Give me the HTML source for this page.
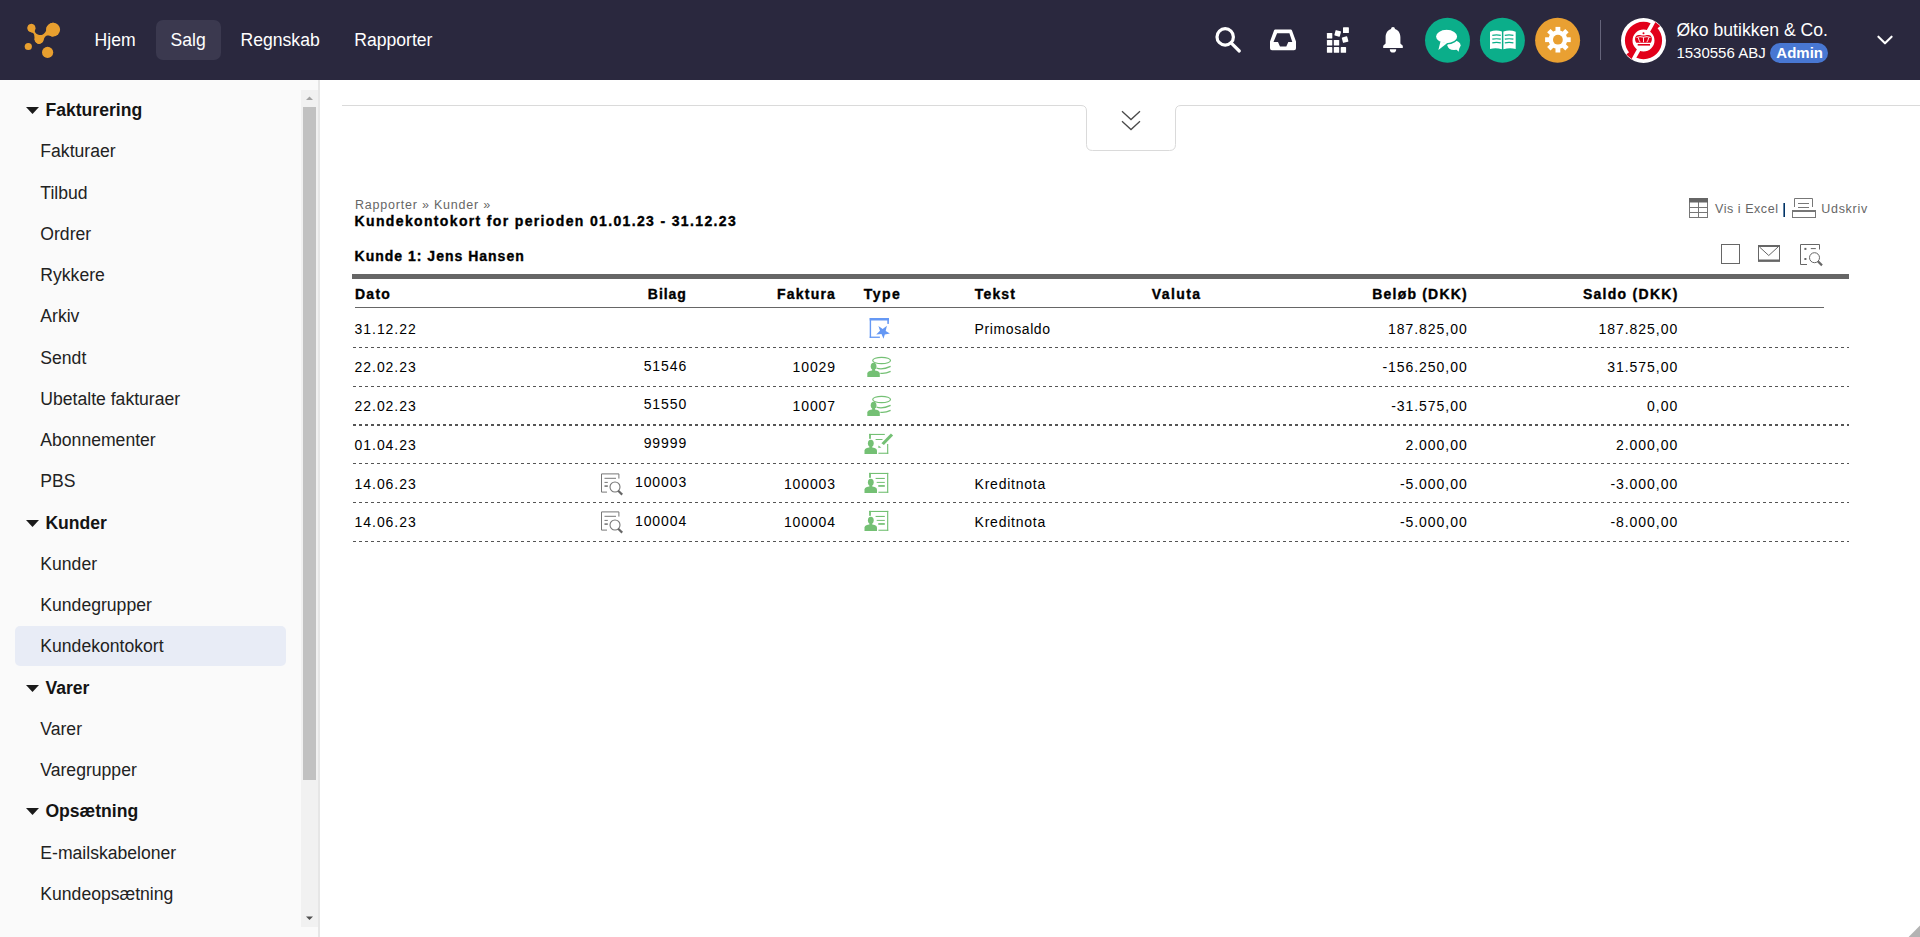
<!DOCTYPE html>
<html lang="da"><head><meta charset="utf-8"><title>Kundekontokort</title>
<style>
*{margin:0;padding:0;box-sizing:border-box}
html,body{width:1920px;height:937px;overflow:hidden;background:#fff;font-family:"Liberation Sans",sans-serif}
.abs{position:absolute;display:block}
.t{position:absolute;white-space:nowrap}
#hdr{position:absolute;left:0;top:0;width:1920px;height:80px;background:#2a283e}
#side{position:absolute;left:0;top:80px;width:318px;height:857px;background:#fafafa}
.dash{position:absolute;left:353px;width:1496px;height:1px;background:repeating-linear-gradient(90deg,#555 0,#555 3px,transparent 3px,transparent 6px)}
</style></head><body>
<header>
<div id="hdr"></div>
<svg class="abs" style="left:0;top:0" width="80" height="80" viewBox="0 0 80 80">
<g fill="#e89f2f">
<path d="M31.44,23.81 C30.15,23.85 27.71,26.70 27.55,28.08 C27.39,29.46 29.46,31.15 30.48,32.08 C31.51,33.02 33.02,32.80 33.69,33.69 C34.35,34.58 34.31,36.36 34.49,37.42 C34.67,38.49 34.26,39.07 34.75,40.09 C35.24,41.12 36.71,42.94 37.42,43.56 C38.14,44.19 38.22,44.05 39.03,43.83 C39.83,43.61 41.38,43.12 42.23,42.23 C43.07,41.34 43.47,39.52 44.10,38.49 C44.72,37.47 45.12,36.58 45.97,36.09 C46.81,35.60 47.92,35.51 49.17,35.56 C50.42,35.60 51.66,37.33 53.44,36.36 C55.22,35.38 59.89,31.95 59.85,29.68 C59.80,27.41 55.31,23.32 53.17,22.74 C51.04,22.16 48.24,24.83 47.03,26.21 C45.830,27.59 46.50,29.77 45.97,31.02 C45.43,32.26 44.72,33.02 43.83,33.69 C42.94,34.35 41.87,35.02 40.63,35.02 C39.38,35.02 37.33,34.35 36.36,33.69 C35.38,33.02 34.93,32.00 34.75,31.02 C34.58,30.04 35.84,29.01 35.29,27.81 C34.74,26.61 32.73,23.76 31.44,23.81Z"/>
<circle cx="31.4" cy="28.1" r="4"/>
<circle cx="53.2" cy="29.6" r="6.85"/>
<circle cx="39.1" cy="39.4" r="4.5"/>
<circle cx="28.3" cy="46.5" r="3.6"/>
<circle cx="47.6" cy="52.4" r="5.6"/>
</g></svg>
<div class="abs" style="left:156px;top:20px;width:65px;height:40px;border-radius:7px;background:#3b394f"></div>
<div class="t" style="top:32.00px;font-size:17.6px;line-height:17.6px;color:#fff;left:94.60px;">Hjem</div>
<div class="t" style="top:32.00px;font-size:17.6px;line-height:17.6px;color:#fff;left:170.60px;">Salg</div>
<div class="t" style="top:32.00px;font-size:17.6px;line-height:17.6px;color:#fff;left:240.50px;">Regnskab</div>
<div class="t" style="top:32.00px;font-size:17.6px;line-height:17.6px;color:#fff;left:354.20px;">Rapporter</div>
<svg class="abs" style="left:1200px;top:0" width="720" height="80" viewBox="1200 0 720 80">
<g fill="none" stroke="#fff" stroke-linecap="round">
<circle cx="1225.2" cy="36.9" r="8.2" stroke-width="3.2"/>
<line x1="1231.6" y1="43.4" x2="1239.3" y2="51" stroke-width="3.2"/>
</g>
<path fill="#fff" fill-rule="evenodd" d="M1275.2,29.6 H1290.8 Q1291.6,29.6 1292,30.4 L1296,41.5 V48.2 Q1296,50.2 1294,50.2 H1272 Q1270,50.2 1270,48.2 V41.5 L1274,30.4 Q1274.4,29.6 1275.2,29.6 Z M1277.1,33.3 H1289.4 L1292.3,41.9 H1288.3 L1286.3,46.6 H1280 L1278,41.9 H1273.5 Z"/>
<g fill="#fff">
<rect x="1326.9" y="47.1" width="5.4" height="5.7" rx="0.6"/>
<rect x="1333.8" y="47.1" width="5.4" height="5.7" rx="0.6"/>
<rect x="1340.7" y="47.1" width="5.4" height="5.7" rx="0.6"/>
<rect x="1326.9" y="40" width="5.4" height="5.6" rx="0.6"/>
<rect x="1333.8" y="40" width="5.4" height="5.6" rx="0.6"/>
<rect x="1326.9" y="33" width="5.4" height="5.6" rx="0.6"/>
<rect x="1343" y="27.3" width="5.9" height="5.7" rx="0.6"/>
<rect x="-2.8" y="-2.8" width="5.6" height="5.6" rx="0.6" transform="translate(1337.7,33.4) rotate(15)"/>
<rect x="-2.8" y="-2.8" width="5.6" height="5.6" rx="0.6" transform="translate(1345.1,39.6) rotate(-15)"/>
<path d="M1393,27.1 C1394.2,27.1 1394.9,27.9 1394.9,28.9 C1398.5,29.9 1400.4,33.2 1400.4,37.2 V43.4 L1402.8,45.8 V47.9 H1383.2 V45.8 L1385.6,43.4 V37.2 C1385.6,33.2 1387.5,29.9 1391.1,28.9 C1391.1,27.9 1391.8,27.1 1393,27.1 Z"/>
<path d="M1389.8,49.2 H1396.2 A3.2,3.4 0 0 1 1389.8,49.2 Z"/>
</g>
<circle cx="1447.5" cy="40.3" r="22.5" fill="#0bae8a"/>
<circle cx="1502.4" cy="40.3" r="22.5" fill="#0bae8a"/>
<circle cx="1557.6" cy="40.3" r="22.5" fill="#e9a032"/>
<g fill="#fff">
<ellipse cx="1454" cy="45.3" rx="6.6" ry="4.8"/>
<path d="M1455,48 L1458.6,51.8 L1459.5,47.5 Z"/>
<ellipse cx="1446.6" cy="36.5" rx="11.2" ry="7.3" stroke="#0bae8a" stroke-width="1.3"/>
<path d="M1440.5,41.5 L1438.4,50 L1447,43.3 Z"/>
</g>
<g fill="#fff">
<path d="M1490,31.8 Q1496,29.2 1501.9,31.6 V49.2 Q1496,47.3 1490,48.9 Z"/>
<path d="M1515.7,31.8 Q1509.7,29.2 1503.4,31.6 V49.2 Q1509.7,47.3 1515.7,48.9 Z"/>
</g>
<g stroke="#0bae8a" stroke-width="1.2" fill="none">
<path d="M1492.3,35.3 Q1496.5,34.4 1500.8,35.3 M1492.3,39.2 Q1496.5,38.3 1500.8,39.2 M1492.3,42.9 Q1496.5,42 1500.8,42.9"/>
<path d="M1504.8,35.3 Q1509,34.4 1513.4,35.3 M1504.8,39.2 Q1509,38.3 1513.4,39.2 M1504.8,42.9 Q1509,42 1513.4,42.9"/>
</g>
<g fill="#fff" transform="translate(1557.9,39.7)">
<circle r="9.4"/>
<rect x="-2.4" y="-12.8" width="4.8" height="25.6"/>
<rect x="-2.4" y="-12.8" width="4.8" height="25.6" transform="rotate(45)"/>
<rect x="-2.4" y="-12.8" width="4.8" height="25.6" transform="rotate(90)"/>
<rect x="-2.4" y="-12.8" width="4.8" height="25.6" transform="rotate(135)"/>
<circle r="4.9" fill="#e9a032"/>
</g>
<line x1="1600.5" y1="20" x2="1600.5" y2="60" stroke="#65647a" stroke-width="1"/>
<circle cx="1643.5" cy="40.5" r="22.5" fill="#fff"/>
<path fill="#e2001a" fill-rule="evenodd" d="M1624.9,40.5 A18.6,18.6 0 1 0 1662.1,40.5 A18.6,18.6 0 1 0 1624.9,40.5 Z M1632.5,40.5 A11,11 0 1 0 1654.5,40.5 A11,11 0 1 0 1632.5,40.5 Z"/>
<clipPath id="lc"><circle cx="1643.5" cy="40.5" r="22"/></clipPath>
<path fill="#e2001a" clip-path="url(#lc)" d="M1651.48,25.49 A17,17 0 0 1 1656.33,29.35 L1660.86,25.41 A23,23 0 0 0 1654.30,20.19 Z M1635.52,55.51 A17,17 0 0 1 1630.29,51.20 L1625.63,54.97 A23,23 0 0 0 1632.70,60.81 Z"/>
<g stroke="#fff" stroke-width="3.6" clip-path="url(#lc)">
<line x1="1647" y1="33.5" x2="1656.5" y2="16.5"/>
<line x1="1640" y1="47.5" x2="1630.5" y2="64.5"/>
</g>
<g fill="#e2001a">
<path d="M1636.2,42.8 C1634.2,39.5 1634.8,35.2 1638.6,35 C1640.5,34.9 1641.7,35.6 1643.5,35.5 C1645.3,35.6 1646.5,34.9 1648.4,35 C1652.2,35.2 1652.8,39.5 1650.8,42.8 Z"/>
<rect x="1637.7" y="44" width="12.3" height="1.6"/>
<circle cx="1643.5" cy="33.2" r="1"/>
</g>
<g stroke="#fff" stroke-width="0.9" fill="none">
<path d="M1638.3,37.6 Q1638.8,40.5 1640.2,42.2 M1643.5,37.2 V42.2 M1648.7,37.6 Q1648.2,40.5 1646.8,42.2 M1636.5,37.5 Q1640,36 1643.5,37.2 Q1647,36 1650.5,37.5"/>
</g>
<rect x="1770" y="43" width="58" height="20" rx="10" fill="#4877d2"/>
<polyline points="1878.4,36.7 1885,43.3 1891.6,36.7" fill="none" stroke="#fff" stroke-width="2.1" stroke-linecap="round" stroke-linejoin="round"/>
</svg>
<div class="t" style="top:22.00px;font-size:17.6px;line-height:17.6px;color:#fff;left:1676.40px;">Øko butikken &amp; Co.</div>
<div class="t" style="top:45.00px;font-size:15px;line-height:15px;color:#fff;left:1676.40px;">1530556 ABJ</div>
<div class="t" style="top:45.00px;font-size:15px;line-height:15px;color:#fff;font-weight:bold;left:1776.30px;">Admin</div>
</header>
<aside>
<div id="side"></div>
<svg class="abs" style="left:26px;top:106.70px" width="13" height="7" viewBox="0 0 13 7"><path d="M0,0 H13 L6.5,7 Z" fill="#1a1a1a"/></svg>
<div class="t" style="top:102.00px;font-size:17.6px;line-height:17.6px;color:#141414;font-weight:bold;left:45.40px;">Fakturering</div>
<div class="t" style="top:143.00px;font-size:17.6px;line-height:17.6px;color:#222;left:40.30px;">Fakturaer</div>
<div class="t" style="top:185.00px;font-size:17.6px;line-height:17.6px;color:#222;left:40.30px;">Tilbud</div>
<div class="t" style="top:226.00px;font-size:17.6px;line-height:17.6px;color:#222;left:40.30px;">Ordrer</div>
<div class="t" style="top:267.00px;font-size:17.6px;line-height:17.6px;color:#222;left:40.30px;">Rykkere</div>
<div class="t" style="top:308.00px;font-size:17.6px;line-height:17.6px;color:#222;left:40.30px;">Arkiv</div>
<div class="t" style="top:350.00px;font-size:17.6px;line-height:17.6px;color:#222;left:40.30px;">Sendt</div>
<div class="t" style="top:391.00px;font-size:17.6px;line-height:17.6px;color:#222;left:40.30px;">Ubetalte fakturaer</div>
<div class="t" style="top:432.00px;font-size:17.6px;line-height:17.6px;color:#222;left:40.30px;">Abonnementer</div>
<div class="t" style="top:473.00px;font-size:17.6px;line-height:17.6px;color:#222;left:40.30px;">PBS</div>
<svg class="abs" style="left:26px;top:519.70px" width="13" height="7" viewBox="0 0 13 7"><path d="M0,0 H13 L6.5,7 Z" fill="#1a1a1a"/></svg>
<div class="t" style="top:515.00px;font-size:17.6px;line-height:17.6px;color:#141414;font-weight:bold;left:45.40px;">Kunder</div>
<div class="t" style="top:556.00px;font-size:17.6px;line-height:17.6px;color:#222;left:40.30px;">Kunder</div>
<div class="t" style="top:597.00px;font-size:17.6px;line-height:17.6px;color:#222;left:40.30px;">Kundegrupper</div>
<div class="abs" style="left:15px;top:626px;width:271px;height:40px;border-radius:5px;background:#e8ecf6"></div>
<div class="t" style="top:638.00px;font-size:17.6px;line-height:17.6px;color:#222;left:40.30px;">Kundekontokort</div>
<svg class="abs" style="left:26px;top:684.70px" width="13" height="7" viewBox="0 0 13 7"><path d="M0,0 H13 L6.5,7 Z" fill="#1a1a1a"/></svg>
<div class="t" style="top:680.00px;font-size:17.6px;line-height:17.6px;color:#141414;font-weight:bold;left:45.40px;">Varer</div>
<div class="t" style="top:721.00px;font-size:17.6px;line-height:17.6px;color:#222;left:40.30px;">Varer</div>
<div class="t" style="top:762.00px;font-size:17.6px;line-height:17.6px;color:#222;left:40.30px;">Varegrupper</div>
<svg class="abs" style="left:26px;top:807.70px" width="13" height="7" viewBox="0 0 13 7"><path d="M0,0 H13 L6.5,7 Z" fill="#1a1a1a"/></svg>
<div class="t" style="top:803.00px;font-size:17.6px;line-height:17.6px;color:#141414;font-weight:bold;left:45.40px;">Opsætning</div>
<div class="t" style="top:845.00px;font-size:17.6px;line-height:17.6px;color:#222;left:40.30px;">E-mailskabeloner</div>
<div class="t" style="top:886.00px;font-size:17.6px;line-height:17.6px;color:#222;left:40.30px;">Kundeopsætning</div>
<div class="abs" style="left:318px;top:80px;width:2px;height:857px;background:#e6e6e6"></div>
<div class="abs" style="left:301px;top:90px;width:17px;height:837px;background:#f1f1f1"></div>
<div class="abs" style="left:303px;top:107px;width:13px;height:673px;background:#c1c1c1"></div>
<svg class="abs" style="left:301px;top:90px" width="17" height="17" viewBox="0 0 17 17"><path d="M5,10 L8.5,6.5 L12,10 Z" fill="#a3a3a3"/></svg>
<svg class="abs" style="left:301px;top:910px" width="17" height="17" viewBox="0 0 17 17"><path d="M5,6.5 L8.5,10 L12,6.5 Z" fill="#505050"/></svg>
</aside>
<main>
<svg class="abs" style="left:320px;top:80px" width="1600" height="100" viewBox="320 80 1600 100">
<path d="M342,105.5 H1081 Q1086.5,105.5 1086.5,111 V144.5 Q1086.5,150.5 1092.5,150.5 H1169.5 Q1175.5,150.5 1175.5,144.5 V111 Q1175.5,105.5 1181,105.5 H1920" fill="none" stroke="#dadada" stroke-width="1"/>
<polyline points="1122,111.3 1131,119.6 1140,111.3" fill="none" stroke="#4a4a4a" stroke-width="1.3"/>
<polyline points="1122,121.3 1131,129.6 1140,121.3" fill="none" stroke="#4a4a4a" stroke-width="1.3"/>
</svg>
<div class="t" style="top:199.00px;font-size:12.5px;line-height:12.5px;color:#666;letter-spacing:0.79px;left:355.00px;">Rapporter » Kunder »</div>
<div class="t" style="top:214.00px;font-size:14px;line-height:14px;color:#000;font-weight:bold;-webkit-text-stroke:0.35px #000;letter-spacing:1.35px;left:354.60px;">Kundekontokort for perioden 01.01.23 - 31.12.23</div>
<div class="t" style="top:249.00px;font-size:14px;line-height:14px;color:#000;font-weight:bold;-webkit-text-stroke:0.35px #000;letter-spacing:1.0px;left:354.60px;">Kunde 1: Jens Hansen</div>
<svg class="abs" style="left:1680px;top:190px" width="200" height="90" viewBox="1680 190 200 90">
<g fill="none" stroke="#777" stroke-width="1">
<rect x="1689.5" y="198.5" width="18" height="19"/>
<line x1="1698.5" y1="202" x2="1698.5" y2="218"/>
<line x1="1689.5" y1="207.5" x2="1707.5" y2="207.5"/>
<line x1="1689.5" y1="212.5" x2="1707.5" y2="212.5"/>
</g>
<rect x="1689" y="198" width="19" height="4.5" fill="#666"/>
<g fill="none" stroke="#777" stroke-width="1">
<path d="M1794.5,207 V198.5 H1812.5 V207"/>
<line x1="1798" y1="203.5" x2="1809" y2="203.5"/>
<line x1="1798" y1="207.5" x2="1809" y2="207.5"/>
<rect x="1792.5" y="210.5" width="23" height="7"/>
</g>
<rect x="1792" y="210" width="24" height="2" fill="#777"/>
<rect x="1783.4" y="203" width="1.6" height="14" fill="#036"/>
<g fill="none" stroke="#666" stroke-width="1">
<rect x="1721.5" y="244.5" width="18" height="19"/>
<rect x="1758.5" y="245.5" width="21" height="15.5"/>
<polyline points="1759.5,247 1768.75,255.5 1778,247"/>
<path d="M1807,264.5 H1800.5 V244.5 H1819.5 V249.5"/>
<circle cx="1814.5" cy="257.7" r="5"/>
</g>
<rect x="1758" y="245" width="22" height="2" fill="#666"/>
<rect x="1758" y="259.5" width="22" height="2.3" fill="#666"/>
<rect x="1804.4" y="247.9" width="2" height="2" fill="#666"/>
<rect x="1804.4" y="258" width="2" height="2" fill="#666"/>
<line x1="1810.8" y1="248.6" x2="1815.8" y2="248.6" stroke="#666" stroke-width="1"/>
<line x1="1818" y1="261.4" x2="1822" y2="265.4" stroke="#666" stroke-width="2.2"/>
</svg>
<div class="t" style="top:203.00px;font-size:12.5px;line-height:12.5px;color:#666;letter-spacing:0.55px;left:1715.00px;">Vis i Excel</div>
<div class="t" style="top:203.00px;font-size:12.5px;line-height:12.5px;color:#666;letter-spacing:0.73px;left:1821.20px;">Udskriv</div>
<div class="abs" style="left:352px;top:274px;width:1497px;height:5px;background:#666"></div>
<div class="abs" style="left:355px;top:307px;width:1469px;height:1px;background:#666"></div>
<div class="dash" style="top:347px"></div>
<div class="dash" style="top:386px"></div>
<div class="dash" style="top:424px"></div>
<div class="dash" style="top:425px"></div>
<div class="dash" style="top:463px"></div>
<div class="dash" style="top:502px"></div>
<div class="dash" style="top:541px"></div>
<div class="t" style="top:287.00px;font-size:14px;line-height:14px;color:#000;font-weight:bold;-webkit-text-stroke:0.35px #000;letter-spacing:1.3px;left:354.90px;">Dato</div>
<div class="t" style="top:287.00px;font-size:14px;line-height:14px;color:#000;font-weight:bold;-webkit-text-stroke:0.35px #000;letter-spacing:0.95px;right:1234.10px;margin-right:-0.95px;">Bilag</div>
<div class="t" style="top:287.00px;font-size:14px;line-height:14px;color:#000;font-weight:bold;-webkit-text-stroke:0.35px #000;letter-spacing:1.23px;right:1085.10px;margin-right:-1.23px;">Faktura</div>
<div class="t" style="top:287.00px;font-size:14px;line-height:14px;color:#000;font-weight:bold;-webkit-text-stroke:0.35px #000;letter-spacing:1.46px;left:863.70px;">Type</div>
<div class="t" style="top:287.00px;font-size:14px;line-height:14px;color:#000;font-weight:bold;-webkit-text-stroke:0.35px #000;letter-spacing:1.2px;left:974.70px;">Tekst</div>
<div class="t" style="top:287.00px;font-size:14px;line-height:14px;color:#000;font-weight:bold;-webkit-text-stroke:0.35px #000;letter-spacing:1.4px;left:1151.80px;">Valuta</div>
<div class="t" style="top:287.00px;font-size:14px;line-height:14px;color:#000;font-weight:bold;-webkit-text-stroke:0.35px #000;letter-spacing:1.2px;right:453.30px;margin-right:-1.2px;">Beløb (DKK)</div>
<div class="t" style="top:287.00px;font-size:14px;line-height:14px;color:#000;font-weight:bold;-webkit-text-stroke:0.35px #000;letter-spacing:1.27px;right:242.70px;margin-right:-1.27px;">Saldo (DKK)</div>
<div class="t" style="top:322.00px;font-size:14px;line-height:14px;color:#000;letter-spacing:0.94px;left:354.60px;">31.12.22</div>
<div class="t" style="top:322.00px;font-size:14px;line-height:14px;color:#000;letter-spacing:0.6px;left:974.60px;">Primosaldo</div>
<div class="t" style="top:322.00px;font-size:14px;line-height:14px;color:#000;letter-spacing:0.95px;right:453.30px;margin-right:-0.95px;">187.825,00</div>
<div class="t" style="top:322.00px;font-size:14px;line-height:14px;color:#000;letter-spacing:0.95px;right:242.80px;margin-right:-0.95px;">187.825,00</div>
<svg class="abs" style="left:860px;top:312px" width="40" height="32" viewBox="860 312 40 32">
<g fill="#6598f4">
<rect x="869.7" y="318" width="19.2" height="2.5"/>
<rect x="869.7" y="318" width="1.4" height="19.9"/>
<rect x="887.3" y="318" width="1.6" height="5.9"/>
<rect x="869.7" y="336.6" width="10.2" height="1.3"/>
<polygon points="878.4,326 882.7,328.9 886.9,325.7 885.7,331 889.9,333.4 884.8,334.6 883.5,338.8 881.5,334 876.2,334.6 880,330.7"/>
</g>
</svg>
<div class="t" style="top:360.00px;font-size:14px;line-height:14px;color:#000;letter-spacing:0.94px;left:354.60px;">22.02.23</div>
<div class="t" style="top:359.00px;font-size:14px;line-height:14px;color:#000;letter-spacing:0.9px;right:1233.80px;margin-right:-0.9px;">51546</div>
<div class="t" style="top:360.00px;font-size:14px;line-height:14px;color:#000;letter-spacing:0.9px;right:1084.90px;margin-right:-0.9px;">10029</div>
<div class="t" style="top:360.00px;font-size:14px;line-height:14px;color:#000;letter-spacing:0.95px;right:453.30px;margin-right:-0.95px;">-156.250,00</div>
<div class="t" style="top:360.00px;font-size:14px;line-height:14px;color:#000;letter-spacing:0.95px;right:242.80px;margin-right:-0.95px;">31.575,00</div>
<svg class="abs" style="left:860px;top:350px" width="40" height="34" viewBox="860 350 40 34">
<path fill="#74c074" d="M867.30,376.90 V373.50 Q867.30,371.50 869.70,371.00 L872.00,370.60 H875.10 L877.40,371.00 Q879.80,371.50 879.80,373.50 V376.90 Z"/><rect fill="#74c074" x="872.20" y="368.10" width="2.8" height="3"/><ellipse fill="#74c074" cx="873.60" cy="366.30" rx="2.9" ry="3.5"/>
<g fill="none" stroke="#74c074" stroke-width="1.2">
<ellipse cx="881.6" cy="360.5" rx="8.9" ry="3.2"/>
<path d="M876.4,368 Q882,370.3 890.6,366.4"/>
<path d="M880.3,373.3 Q885.5,373.9 890.6,371.4"/>
</g>
</svg>
<div class="t" style="top:399.00px;font-size:14px;line-height:14px;color:#000;letter-spacing:0.94px;left:354.60px;">22.02.23</div>
<div class="t" style="top:397.00px;font-size:14px;line-height:14px;color:#000;letter-spacing:0.9px;right:1233.80px;margin-right:-0.9px;">51550</div>
<div class="t" style="top:399.00px;font-size:14px;line-height:14px;color:#000;letter-spacing:0.9px;right:1084.90px;margin-right:-0.9px;">10007</div>
<div class="t" style="top:399.00px;font-size:14px;line-height:14px;color:#000;letter-spacing:0.95px;right:453.30px;margin-right:-0.95px;">-31.575,00</div>
<div class="t" style="top:399.00px;font-size:14px;line-height:14px;color:#000;letter-spacing:0.95px;right:242.80px;margin-right:-0.95px;">0,00</div>
<svg class="abs" style="left:860px;top:389px" width="40" height="34" viewBox="860 350 40 34">
<path fill="#74c074" d="M867.30,376.90 V373.50 Q867.30,371.50 869.70,371.00 L872.00,370.60 H875.10 L877.40,371.00 Q879.80,371.50 879.80,373.50 V376.90 Z"/><rect fill="#74c074" x="872.20" y="368.10" width="2.8" height="3"/><ellipse fill="#74c074" cx="873.60" cy="366.30" rx="2.9" ry="3.5"/>
<g fill="none" stroke="#74c074" stroke-width="1.2">
<ellipse cx="881.6" cy="360.5" rx="8.9" ry="3.2"/>
<path d="M876.4,368 Q882,370.3 890.6,366.4"/>
<path d="M880.3,373.3 Q885.5,373.9 890.6,371.4"/>
</g>
</svg>
<div class="t" style="top:438.00px;font-size:14px;line-height:14px;color:#000;letter-spacing:0.94px;left:354.60px;">01.04.23</div>
<div class="t" style="top:436.00px;font-size:14px;line-height:14px;color:#000;letter-spacing:0.9px;right:1233.80px;margin-right:-0.9px;">99999</div>
<div class="t" style="top:438.00px;font-size:14px;line-height:14px;color:#000;letter-spacing:0.95px;right:453.30px;margin-right:-0.95px;">2.000,00</div>
<div class="t" style="top:438.00px;font-size:14px;line-height:14px;color:#000;letter-spacing:0.95px;right:242.80px;margin-right:-0.95px;">2.000,00</div>
<svg class="abs" style="left:858px;top:428px" width="40" height="30" viewBox="858 428 40 30">
<g fill="#74c074">
<rect x="869.1" y="433.9" width="15.7" height="1.1"/>
<rect x="869.1" y="433.9" width="1.8" height="4.9"/>
<rect x="887.1" y="444" width="1.15" height="9.9"/>
<rect x="878.4" y="452.7" width="9.85" height="1.1"/>
<rect x="875.6" y="439" width="6.9" height="1"/>
<polygon points="881.4,443.2 890.9,433.5 893.1,435.6 883.9,444.9"/>
<polygon points="878.4,445.4 878.4,447.9 881.4,447.4"/>
</g>
<path fill="#74c074" d="M864.50,453.90 V450.50 Q864.50,448.50 866.90,448.00 L869.20,447.60 H872.30 L874.60,448.00 Q877.00,448.50 877.00,450.50 V453.90 Z"/><rect fill="#74c074" x="869.40" y="445.10" width="2.8" height="3"/><ellipse fill="#74c074" cx="870.80" cy="443.30" rx="2.9" ry="3.5"/>
</svg>
<div class="t" style="top:477.00px;font-size:14px;line-height:14px;color:#000;letter-spacing:0.94px;left:354.60px;">14.06.23</div>
<div class="t" style="top:475.00px;font-size:14px;line-height:14px;color:#000;letter-spacing:0.9px;right:1233.80px;margin-right:-0.9px;">100003</div>
<div class="t" style="top:477.00px;font-size:14px;line-height:14px;color:#000;letter-spacing:0.9px;right:1084.90px;margin-right:-0.9px;">100003</div>
<div class="t" style="top:477.00px;font-size:14px;line-height:14px;color:#000;letter-spacing:0.75px;left:974.60px;">Kreditnota</div>
<div class="t" style="top:477.00px;font-size:14px;line-height:14px;color:#000;letter-spacing:0.95px;right:453.30px;margin-right:-0.95px;">-5.000,00</div>
<div class="t" style="top:477.00px;font-size:14px;line-height:14px;color:#000;letter-spacing:0.95px;right:242.80px;margin-right:-0.95px;">-3.000,00</div>
<svg class="abs" style="left:858px;top:466px" width="40" height="30" viewBox="858 466 40 30">
<g fill="#74c074">
<rect x="869.1" y="472.9" width="19.15" height="1.1"/>
<rect x="869.1" y="472.9" width="1.8" height="4.9"/>
<rect x="887.1" y="472.9" width="1.15" height="19.9"/>
<rect x="878.4" y="491.7" width="9.85" height="1.1"/>
<rect x="875.6" y="477.9" width="9.2" height="1.1"/>
<rect x="876.7" y="481.9" width="8.1" height="1"/>
<rect x="878.25" y="485.1" width="6.55" height="1.7"/>
</g>
<path fill="#74c074" d="M864.50,492.90 V489.50 Q864.50,487.50 866.90,487.00 L869.20,486.60 H872.30 L874.60,487.00 Q877.00,487.50 877.00,489.50 V492.90 Z"/><rect fill="#74c074" x="869.40" y="484.10" width="2.8" height="3"/><ellipse fill="#74c074" cx="870.80" cy="482.30" rx="2.9" ry="3.5"/>
</svg>
<svg class="abs" style="left:595px;top:466.00px" width="32" height="32" viewBox="595 466 32 32">
<path d="M607,492.1 H601.5 V473.9 H618.9 V478.6" fill="none" stroke="#777" stroke-width="1"/>
<line x1="604.5" y1="478.3" x2="616" y2="478.3" stroke="#777" stroke-width="1"/>
<line x1="604.5" y1="482.4" x2="607.8" y2="482.4" stroke="#777" stroke-width="1"/>
<line x1="604.5" y1="486.1" x2="607.8" y2="486.1" stroke="#777" stroke-width="1.6"/>
<circle cx="615" cy="487" r="5" fill="none" stroke="#777" stroke-width="1.1"/>
<line x1="618.2" y1="490.8" x2="622.2" y2="494.6" stroke="#666" stroke-width="2.2"/>
</svg>
<div class="t" style="top:515.00px;font-size:14px;line-height:14px;color:#000;letter-spacing:0.94px;left:354.60px;">14.06.23</div>
<div class="t" style="top:514.00px;font-size:14px;line-height:14px;color:#000;letter-spacing:0.9px;right:1233.80px;margin-right:-0.9px;">100004</div>
<div class="t" style="top:515.00px;font-size:14px;line-height:14px;color:#000;letter-spacing:0.9px;right:1084.90px;margin-right:-0.9px;">100004</div>
<div class="t" style="top:515.00px;font-size:14px;line-height:14px;color:#000;letter-spacing:0.75px;left:974.60px;">Kreditnota</div>
<div class="t" style="top:515.00px;font-size:14px;line-height:14px;color:#000;letter-spacing:0.95px;right:453.30px;margin-right:-0.95px;">-5.000,00</div>
<div class="t" style="top:515.00px;font-size:14px;line-height:14px;color:#000;letter-spacing:0.95px;right:242.80px;margin-right:-0.95px;">-8.000,00</div>
<svg class="abs" style="left:858px;top:504px" width="40" height="30" viewBox="858 466 40 30">
<g fill="#74c074">
<rect x="869.1" y="472.9" width="19.15" height="1.1"/>
<rect x="869.1" y="472.9" width="1.8" height="4.9"/>
<rect x="887.1" y="472.9" width="1.15" height="19.9"/>
<rect x="878.4" y="491.7" width="9.85" height="1.1"/>
<rect x="875.6" y="477.9" width="9.2" height="1.1"/>
<rect x="876.7" y="481.9" width="8.1" height="1"/>
<rect x="878.25" y="485.1" width="6.55" height="1.7"/>
</g>
<path fill="#74c074" d="M864.50,492.90 V489.50 Q864.50,487.50 866.90,487.00 L869.20,486.60 H872.30 L874.60,487.00 Q877.00,487.50 877.00,489.50 V492.90 Z"/><rect fill="#74c074" x="869.40" y="484.10" width="2.8" height="3"/><ellipse fill="#74c074" cx="870.80" cy="482.30" rx="2.9" ry="3.5"/>
</svg>
<svg class="abs" style="left:595px;top:504.00px" width="32" height="32" viewBox="595 466 32 32">
<path d="M607,492.1 H601.5 V473.9 H618.9 V478.6" fill="none" stroke="#777" stroke-width="1"/>
<line x1="604.5" y1="478.3" x2="616" y2="478.3" stroke="#777" stroke-width="1"/>
<line x1="604.5" y1="482.4" x2="607.8" y2="482.4" stroke="#777" stroke-width="1"/>
<line x1="604.5" y1="486.1" x2="607.8" y2="486.1" stroke="#777" stroke-width="1.6"/>
<circle cx="615" cy="487" r="5" fill="none" stroke="#777" stroke-width="1.1"/>
<line x1="618.2" y1="490.8" x2="622.2" y2="494.6" stroke="#666" stroke-width="2.2"/>
</svg>
</main>
<svg class="abs" style="left:1900px;top:917px" width="20" height="20" viewBox="1900 917 20 20"><path d="M1908.6,937 L1920,925.6 V937 Z" fill="#b3b3b3"/></svg>
</body></html>
